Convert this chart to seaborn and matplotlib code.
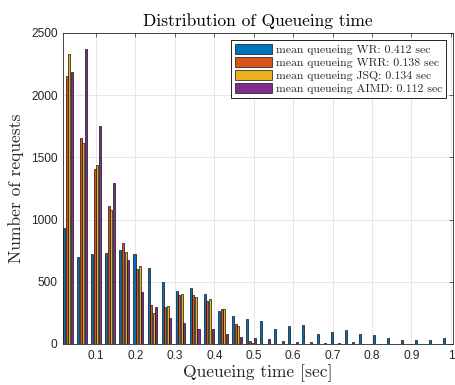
import numpy as np
import pandas as pd
import matplotlib
matplotlib.use("Agg")
import matplotlib.pyplot as plt
import seaborn as sns

# ---- data ----
bin_centers = [0.0290, 0.0647, 0.1004, 0.1361, 0.1718, 0.2075, 0.2432, 0.2789,
               0.3146, 0.3503, 0.3860, 0.4217, 0.4574, 0.4931, 0.5288, 0.5645,
               0.6002, 0.6359, 0.6716, 0.7073, 0.7430, 0.7787, 0.8144, 0.8501,
               0.8858, 0.9215, 0.9572, 0.9929]
wr = [933, 699, 720, 734, 753, 726, 610, 500, 427, 450, 402, 267, 223, 198,
      182, 121, 142, 152, 78, 96, 110, 78, 72, 46, 32, 30, 30, 46]
wrr = [2152, 1658, 1408, 1110, 812, 605, 314, 296, 390, 397, 346, 282, 161, 25,
       3, 2, 1, 1, 0, 0, 0, 0, 0, 0, 0, 0, 0, 0]
jsq = [2335, 1618, 1435, 1075, 742, 626, 253, 306, 399, 375, 362, 280, 143, 5,
       1, 1, 0, 0, 0, 0, 0, 0, 0, 0, 0, 0, 0, 0]
aimd = [2190, 2370, 1750, 1298, 672, 414, 301, 212, 170, 121, 120, 79, 54, 47,
        39, 25, 17, 16, 8, 5, 13, 4, 3, 2, 1, 1, 1, 3]
series_labels = ["mean queueing WR: 0.412 sec",
                 "mean queueing WRR: 0.138 sec",
                 "mean queueing JSQ: 0.134 sec",
                 "mean queueing AIMD: 0.112 sec"]
colors = ["#0072BD", "#D95319", "#EDB120", "#7E2F8E"]
xtick_vals = [0.1, 0.2, 0.3, 0.4, 0.5, 0.6, 0.7, 0.8, 0.9, 1.0]
xtick_labels = ["0.1", "0.2", "0.3", "0.4", "0.5", "0.6", "0.7", "0.8", "0.9", "1"]
ytick_vals = [0, 500, 1000, 1500, 2000, 2500]

rows = []
for lab, vals in zip(series_labels, [wr, wrr, jsq, aimd]):
    for c, v in zip(bin_centers, vals):
        rows.append({"center": c, "count": v, "series": lab})
df = pd.DataFrame(rows)

sns.set_style("white")
plt.rcParams["font.family"] = ["Liberation Sans", "DejaVu Sans"]
SERIF = ["cmr10", "DejaVu Serif"]

fig = plt.figure(figsize=(4.56, 3.85), dpi=100)
ax = fig.add_axes([63 / 456, 41 / 385, 390 / 456, 311 / 385])

sns.barplot(data=df, x="center", y="count", hue="series", hue_order=series_labels,
            palette=colors, saturation=1, native_scale=True, width=0.727, gap=0.2,
            edgecolor="#111111", linewidth=0.5, errorbar=None, ax=ax, zorder=3)

ax.set_xlim(0.0165, 1.0053)
ax.set_ylim(0, 2500)
ax.set_xticks(xtick_vals)
ax.set_xticklabels(xtick_labels)
ax.set_yticks(ytick_vals)
ax.grid(True, color="#e3e3e3", linewidth=0.6, zorder=0)
ax.set_axisbelow(True)
ax.tick_params(direction="in", top=True, right=True, length=3, width=0.5,
               labelsize=8.6, colors="#262626", pad=4)
for s in ax.spines.values():
    s.set_color("#262626")
    s.set_linewidth(0.6)

ax.set_title("Distribution of Queueing time", fontsize=12.6, family=SERIF,
             color="black", pad=5)
ax.set_xlabel("Queueing time [sec]", fontsize=12.6, family=SERIF, labelpad=2)
ax.set_ylabel("Number of requests", fontsize=12.6, family=SERIF, labelpad=5)

handles, labels = ax.get_legend_handles_labels()
leg = ax.legend(handles, labels, loc="upper right",
                prop={"family": SERIF, "size": 8.5},
                frameon=True, fancybox=False, framealpha=1, edgecolor="#222222",
                handlelength=3.2, handleheight=1.0, handletextpad=0.3,
                labelspacing=0.15, borderpad=0.3, borderaxespad=0.6)
leg.get_frame().set_linewidth(0.7)

fig.savefig("out.png", dpi=100)
